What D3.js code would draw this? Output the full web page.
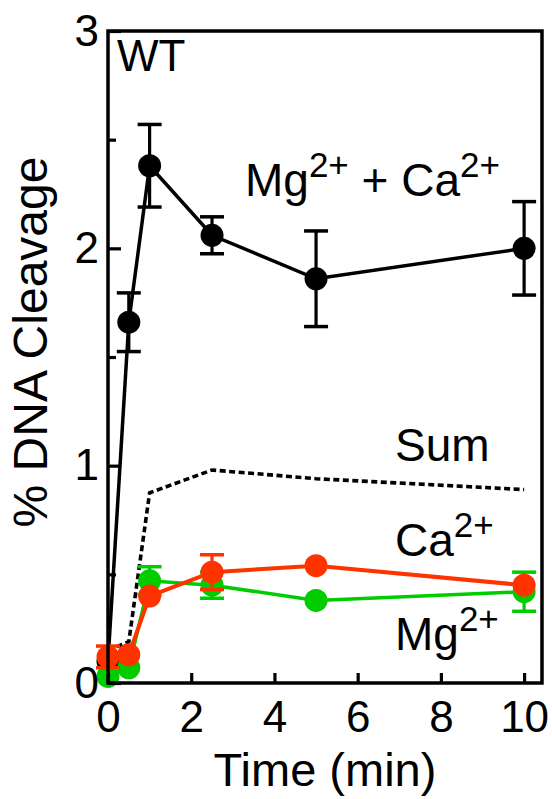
<!DOCTYPE html>
<html><head><meta charset="utf-8">
<script src="https://cdn.jsdelivr.net/npm/d3@7"></script>
<style>body{margin:0;background:#fff}svg{display:block}text{font-family:"Liberation Sans",Arial,sans-serif;fill:#000}</style>
</head><body><svg id="c" width="552" height="799"></svg>
<script>
const times = [0, 0.5, 1, 2.5, 5, 10];
const mgCa = [0.10, 1.66, 2.38, 2.06, 1.86, 2.00];
const mgCaErr = [0, 0.135, 0.19, 0.085, 0.22, 0.215];
const ca = [0.12, 0.13, 0.40, 0.51, 0.54, 0.45];
const caErr = [0.05, 0, 0, 0.08, 0, 0];
const mg = [0.03, 0.07, 0.47, 0.45, 0.38, 0.42];
const mgErr = [0, 0, 0.065, 0.06, 0, 0.09];
const sum = [0.15, 0.19, 0.875, 0.98, 0.94, 0.89];
const xTicks = [0, 2, 4, 6, 8, 10];
const yTicks = [0, 1, 2, 3];
const yMinor = [0.5, 1.5, 2.5];

const svg = d3.select("#c");
const L = 108, R = 542, T = 31, B = 683;
const x = d3.scaleLinear([0, 10.43], [L, R]);
const y = d3.scaleLinear([0, 3], [B, T]);

const series = [
  {v: mgCa, e: mgCaErr, c: "#000000", w: 3.5},
  {v: mg, e: mgErr, c: "#00cc00", w: 3.5},
  {v: ca, e: caErr, c: "#ff3300", w: 4}
];

// sum dotted line
svg.append("path")
  .attr("d", d3.line().x((d,i)=>x(times[i])).y(d=>y(d))(sum))
  .attr("fill","none").attr("stroke","#000").attr("stroke-width",3.6)
  .attr("stroke-dasharray","6,3.5");

series.forEach(s => {
  const g = svg.append("g");
  g.append("path")
    .attr("d", d3.line().x((d,i)=>x(times[i])).y(d=>y(d))(s.v))
    .attr("fill","none").attr("stroke",s.c).attr("stroke-width",s.w);
  s.v.forEach((v,i) => {
    const e = s.e[i];
    if (e > 0) {
      const cx = x(times[i]);
      g.append("line").attr("x1",cx).attr("x2",cx).attr("y1",y(v-e)).attr("y2",y(v+e))
        .attr("stroke",s.c).attr("stroke-width",3.2);
      [v-e, v+e].forEach(vv => g.append("line").attr("x1",cx-12).attr("x2",cx+12)
        .attr("y1",y(vv)).attr("y2",y(vv)).attr("stroke",s.c).attr("stroke-width",3.5));
    }
  });
  g.selectAll("circle").data(s.v).join("circle")
    .attr("cx",(d,i)=>x(times[i])).attr("cy",d=>y(d)).attr("r",11.5).attr("fill",s.c);
});

// frame
svg.append("rect").attr("x",L).attr("y",T).attr("width",R-L).attr("height",B-T)
  .attr("fill","none").attr("stroke","#000").attr("stroke-width",3.5);

// axes
const xa = svg.append("g").attr("transform",`translate(0,${B})`)
  .call(d3.axisBottom(x).tickValues(xTicks).tickSize(-10).tickPadding(18).tickFormat(d3.format("d")));
const ya = svg.append("g").attr("transform",`translate(${L},0)`)
  .call(d3.axisLeft(y).tickValues(yTicks).tickSize(-13).tickPadding(9).tickFormat(d3.format("d")));
const ym = svg.append("g").attr("transform",`translate(${L},0)`)
  .call(d3.axisLeft(y).tickValues(yMinor).tickSize(-8).tickFormat(""));
[xa, ya, ym].forEach(a => {
  a.select(".domain").remove();
  a.selectAll(".tick line").attr("stroke","#000").attr("stroke-width",3.2);
  a.selectAll("text").attr("font-size",44).attr("font-family","Liberation Sans, Arial, sans-serif").attr("fill","#000");
});

// axis titles
svg.append("text").attr("x",(L+R)/2).attr("y",786).attr("text-anchor","middle")
  .attr("font-size",47).text("Time (min)");
svg.append("text").attr("transform","translate(47,342) rotate(-90)").attr("text-anchor","middle")
  .attr("font-size",48).text("% DNA Cleavage");

svg.append("text").attr("x",117).attr("y",71).attr("font-size",44).text("WT");

function label(xp, yp, parts) {
  const t = svg.append("text").attr("x",xp).attr("y",yp).attr("font-size",46);
  parts.forEach(p => {
    if (p.sup) t.append("tspan").attr("font-size",35).attr("dy",-19).text(p.t);
    else t.append("tspan").attr("dy", p.after ? 19 : 0).text(p.t);
  });
}
label(245, 196, [{t:"Mg"},{t:"2+",sup:true},{t:" + Ca",after:true},{t:"2+",sup:true}]);
label(395, 461, [{t:"Sum"}]);
label(395, 556, [{t:"Ca"},{t:"2+",sup:true}]);
label(395, 650, [{t:"Mg"},{t:"2+",sup:true}]);
</script></body></html>
